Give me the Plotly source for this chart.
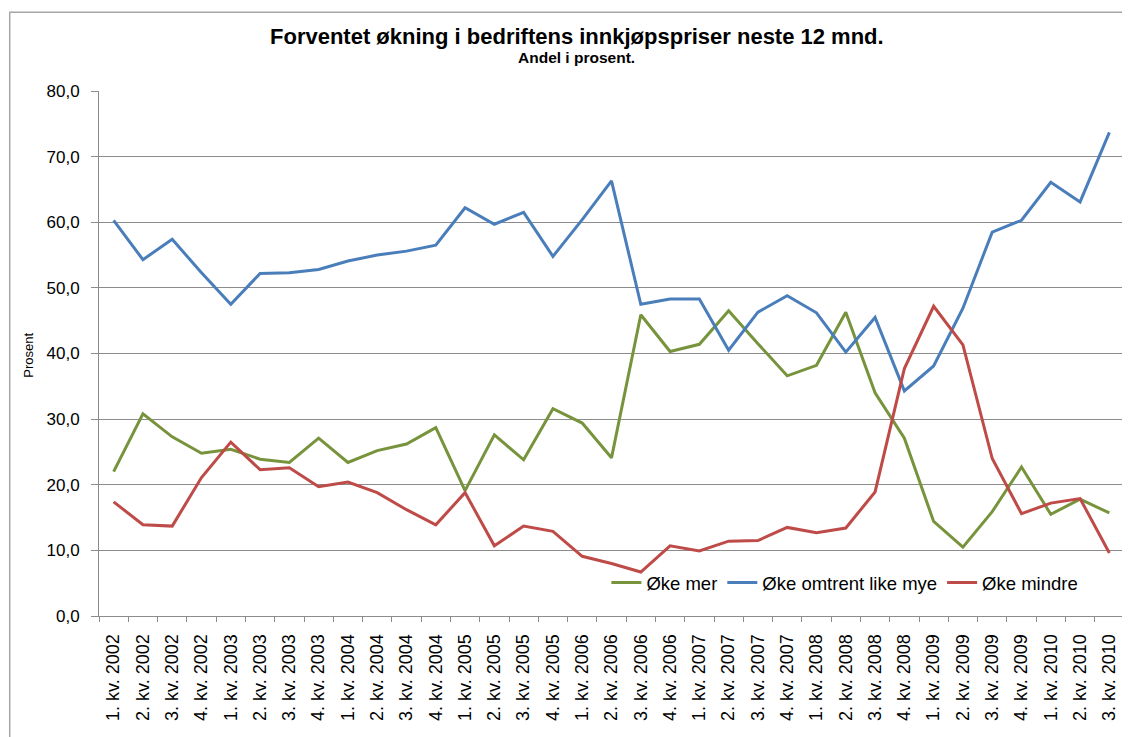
import plotly.graph_objects as go

categories = [f"{q}. kv. {y}" for y in range(2002, 2011) for q in range(1, 5)][:35]

oke_mer = [22.0, 30.8, 27.3, 24.8, 25.4, 23.9, 23.4, 27.1, 23.4, 25.2, 26.2, 28.7,
           19.1, 27.6, 23.8, 31.6, 29.4, 24.1, 45.9, 40.3, 41.4, 46.5, 41.5, 36.6,
           38.2, 46.3, 34.0, 27.1, 14.4, 10.5, 15.9, 22.7, 15.5, 17.8, 15.7]

oke_like = [60.3, 54.3, 57.4, 52.3, 47.5, 52.2, 52.3, 52.8, 54.1, 55.0, 55.6, 56.5,
            62.2, 59.7, 61.5, 54.8, 60.4, 66.3, 47.5, 48.3, 48.3, 40.5, 46.3, 48.8,
            46.2, 40.2, 45.5, 34.3, 38.1, 46.9, 58.5, 60.3, 66.1, 63.1, 73.7]

oke_mindre = [17.4, 13.9, 13.7, 21.1, 26.5, 22.3, 22.6, 19.7, 20.4, 18.8, 16.2, 13.9,
              18.8, 10.7, 13.7, 12.9, 9.1, 8.0, 6.7, 10.7, 9.9, 11.4, 11.5, 13.5,
              12.7, 13.4, 18.9, 37.7, 47.2, 41.3, 24.0, 15.6, 17.2, 17.9, 9.6]

series = [
    ("Øke mer", oke_mer, "#77933C"),
    ("Øke omtrent like mye", oke_like, "#4A7EBB"),
    ("Øke mindre", oke_mindre, "#BE4B48"),
]

FONT = "Liberation Sans, Arial, sans-serif"
GRID = "#8c8c8c"

fig = go.Figure()
for name, vals, color in series:
    fig.add_trace(go.Scatter(
        x=categories, y=vals, name=name, mode="lines",
        line=dict(color=color, width=3),
    ))

fig.update_layout(
    width=1130, height=737,
    margin=dict(l=91, r=14, t=83, b=129, autoexpand=False),
    paper_bgcolor="white", plot_bgcolor="white",
    separators=", ",
    font=dict(family=FONT, color="#000000"),
    showlegend=True,
    legend=dict(
        orientation="h", x=0.495, y=0.063, xanchor="left", yanchor="middle",
        font=dict(size=18.5, family=FONT), bgcolor="rgba(0,0,0,0)",
        itemwidth=30, tracegroupgap=0,
    ),
    xaxis=dict(
        type="category", range=[-0.5, 34.5],
        showgrid=False, showline=True, linecolor=GRID, linewidth=1,
        ticks="outside", ticklen=5, tickcolor=GRID, tickson="boundaries",
        tickangle=-90, tickfont=dict(size=18, family=FONT, color="#000"),
        ticklabelstandoff=10,
    ),
    yaxis=dict(
        range=[0, 80], dtick=10, tickformat=".1f",
        showgrid=True, gridcolor=GRID, gridwidth=1,
        showline=True, linecolor=GRID, linewidth=1,
        ticks="outside", ticklen=7, tickcolor=GRID,
        tickfont=dict(size=17, family=FONT, color="#000"),
        ticklabelstandoff=8, zeroline=False,
    ),
    annotations=[
        dict(text="<b>Forventet økning i bedriftens innkjøpspriser neste 12 mnd.</b>",
             xref="paper", yref="paper", x=0.466, y=1.1045, showarrow=False,
             xanchor="center", yanchor="middle", font=dict(size=22, family=FONT)),
        dict(text="<b>Andel i prosent.</b>",
             xref="paper", yref="paper", x=0.466, y=1.0635, showarrow=False,
             xanchor="center", yanchor="middle", font=dict(size=15.5, family=FONT)),
        dict(text="Prosent", textangle=-90,
             xref="paper", yref="paper", x=-0.0696, y=0.497, showarrow=False,
             xanchor="center", yanchor="middle", font=dict(size=13, family=FONT)),
    ],
    shapes=[
        dict(type="rect", xref="paper", yref="paper",
             x0=-0.0871, x1=1.03, y0=-0.28, y1=1.1498,
             line=dict(color="#a6a6a6", width=1.5), fillcolor="rgba(0,0,0,0)",
             layer="below"),
    ],
)

fig.write_html("out.html")
